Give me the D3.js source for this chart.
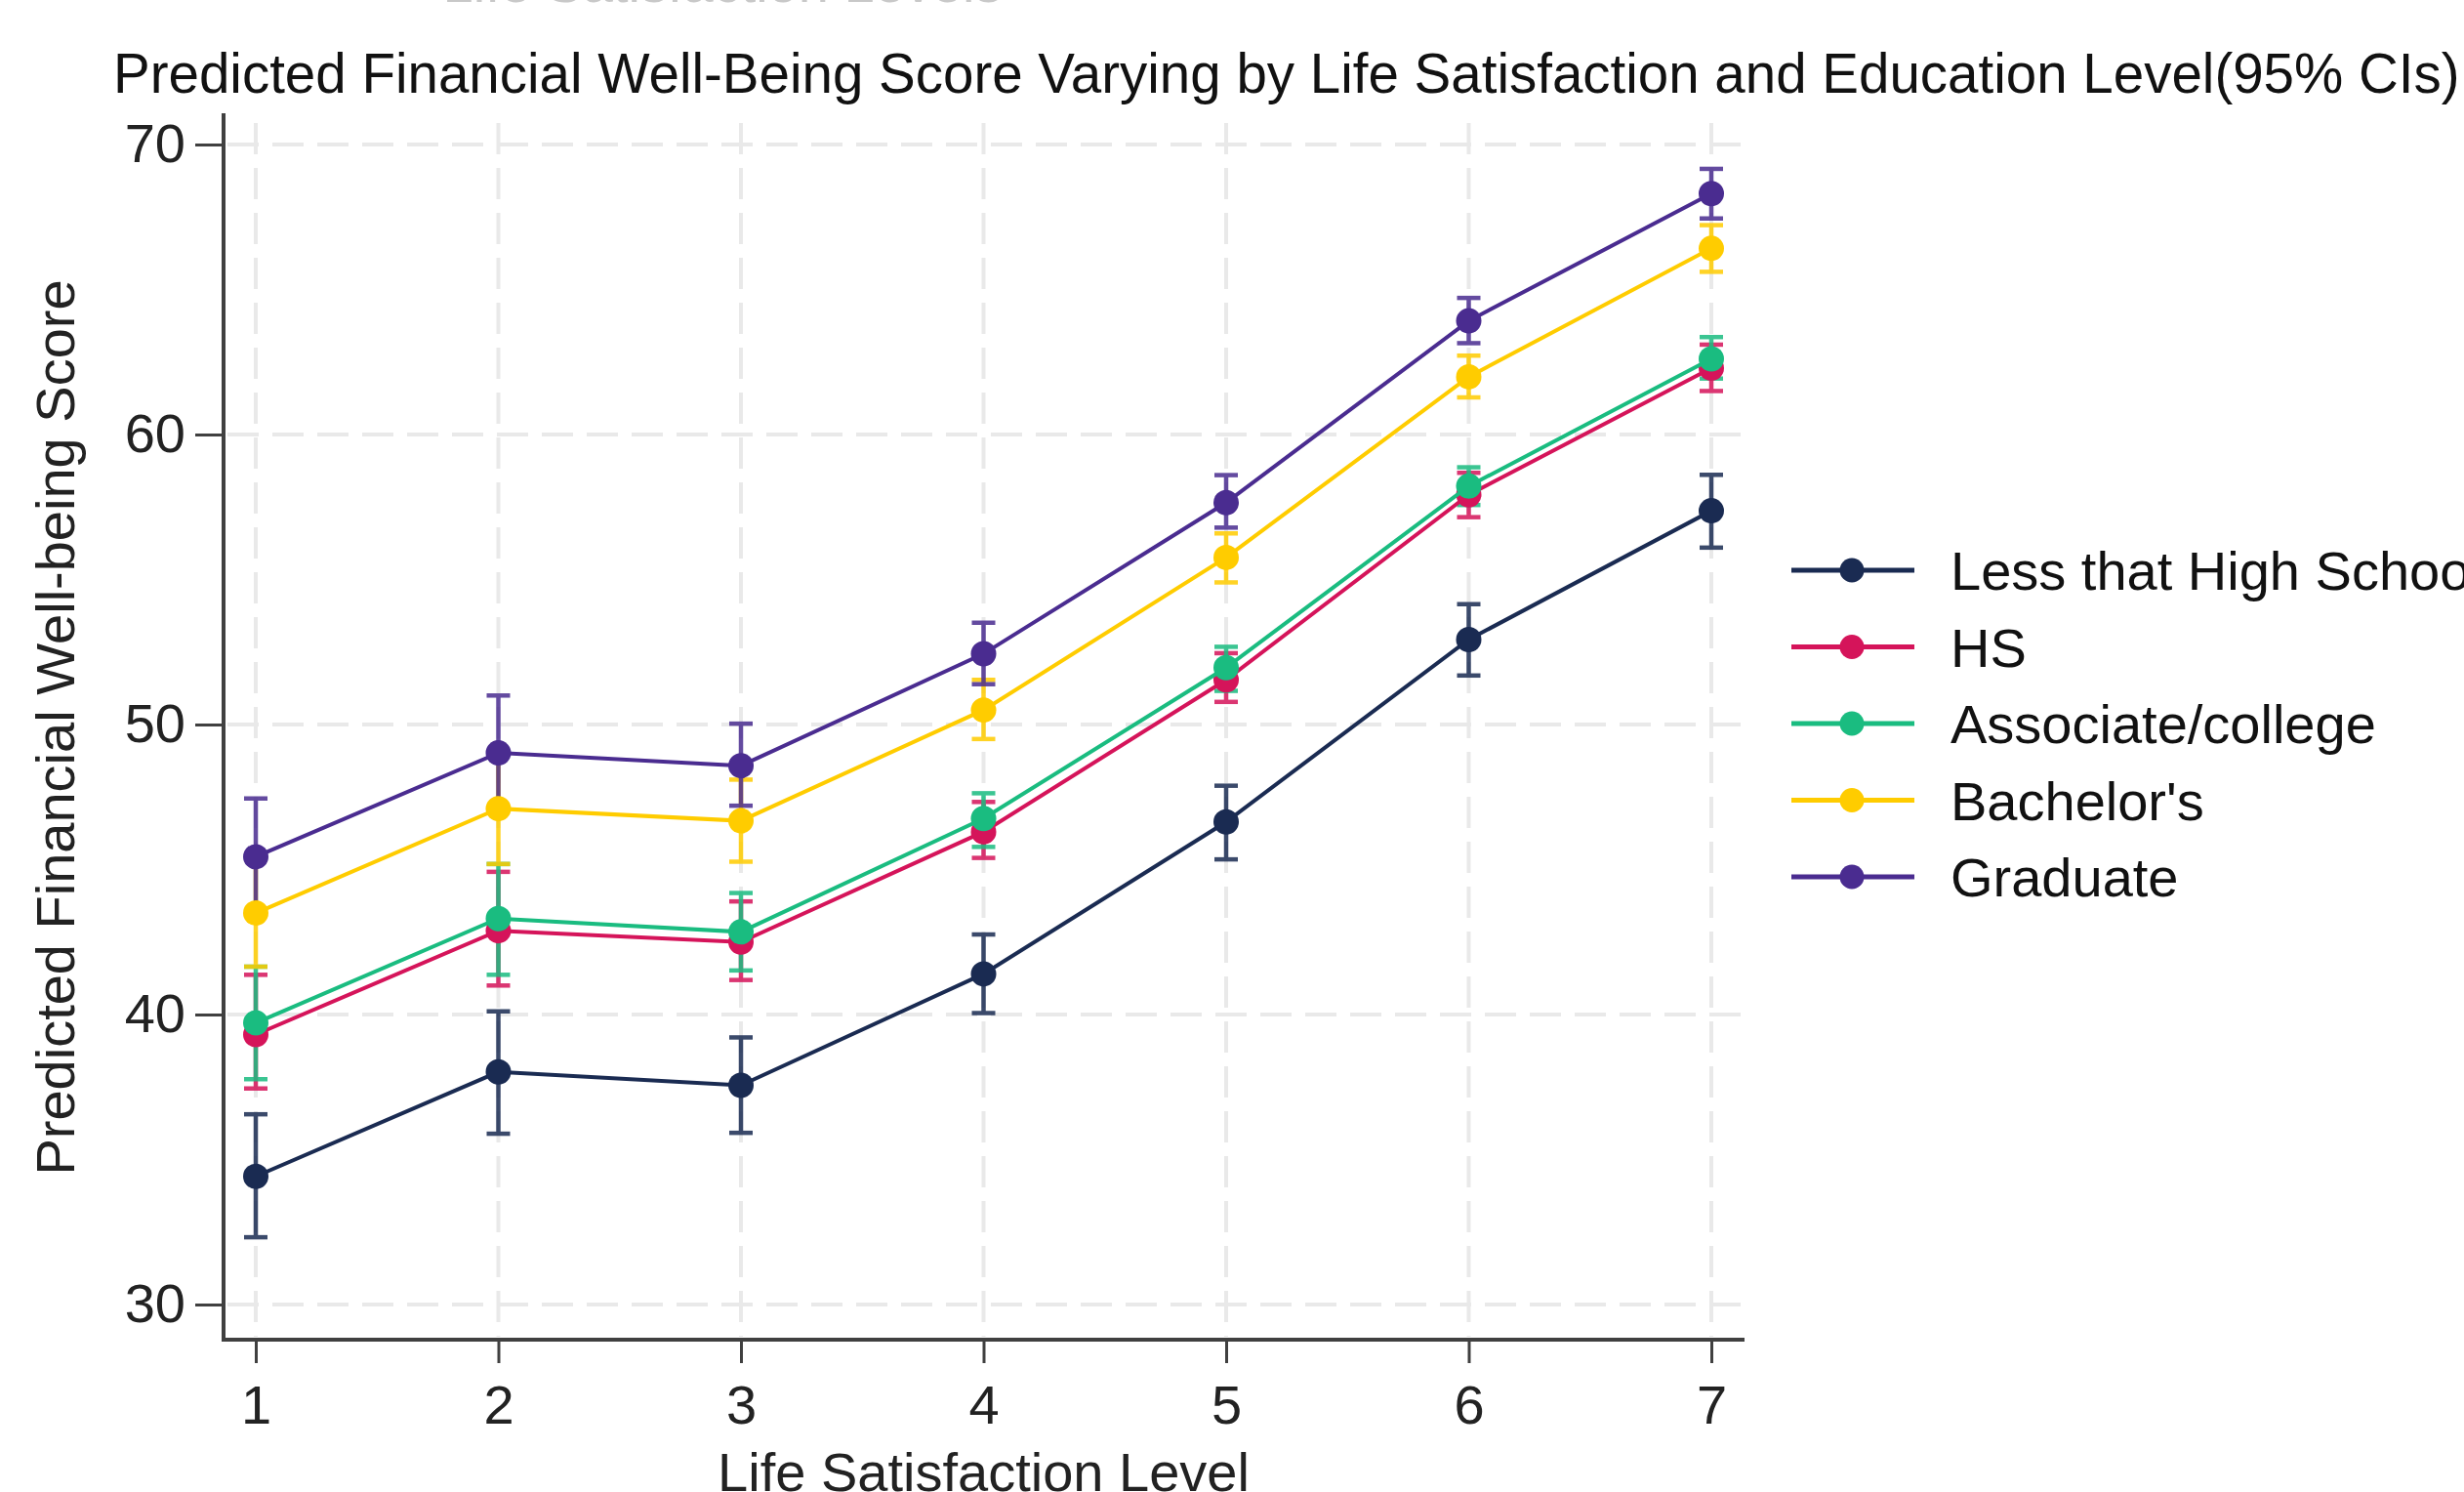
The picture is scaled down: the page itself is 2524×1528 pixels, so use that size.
<!DOCTYPE html>
<html>
<head>
<meta charset="utf-8">
<script src="https://cdn.jsdelivr.net/npm/d3@7"></script>
<style>
  html, body { margin: 0; padding: 0; background: #fff; overflow: hidden; }
  text { font-family: "Liberation Sans", Arial, sans-serif; }
</style>
</head>
<body>
<svg id="chart" width="2524" height="1528"></svg>
<script>
// ---- data ----
const levels = [1, 2, 3, 4, 5, 6, 7];
const seriesNames = ["Less that High School", "HS", "Associate/college", "Bachelor's", "Graduate"];
const yTicks = [30, 40, 50, 60, 70];

const lessHS_mean = [34.42, 38.02, 37.56, 41.40, 46.64, 52.93, 57.37];
const lessHS_lo   = [32.32, 35.89, 35.92, 40.05, 45.35, 51.69, 56.10];
const lessHS_hi   = [36.56, 40.11, 39.21, 42.76, 47.89, 54.15, 58.61];

const hs_mean = [39.31, 42.89, 42.50, 46.30, 51.54, 57.92, 62.29];
const hs_lo   = [37.45, 41.00, 41.19, 45.40, 50.78, 57.15, 61.50];
const hs_hi   = [41.37, 44.92, 43.90, 47.33, 52.46, 58.68, 63.10];

const assoc_mean = [39.71, 43.31, 42.85, 46.76, 51.96, 58.22, 62.61];
const assoc_lo   = [37.77, 41.37, 41.52, 45.78, 51.16, 57.57, 61.93];
const assoc_hi   = [41.65, 45.19, 44.19, 47.63, 52.68, 58.87, 63.36];

const bach_mean = [43.50, 47.10, 46.68, 50.50, 55.76, 61.99, 66.42];
const bach_lo   = [41.65, 45.19, 45.27, 49.50, 54.90, 61.28, 65.61];
const bach_hi   = [45.35, 49.00, 48.10, 51.54, 56.59, 62.72, 67.22];

const grad_mean = [45.44, 49.02, 48.58, 52.44, 57.65, 63.92, 68.31];
const grad_lo   = [43.42, 47.05, 47.20, 51.39, 56.79, 63.15, 67.45];
const grad_hi   = [47.45, 51.00, 50.03, 53.51, 58.60, 64.71, 69.16];

const colors = ["#1a2b52", "#d5145a", "#1abc80", "#ffcc00", "#4a2c90"];

const series = [
  { name: seriesNames[0], mean: lessHS_mean, lo: lessHS_lo, hi: lessHS_hi, color: colors[0] },
  { name: seriesNames[1], mean: hs_mean, lo: hs_lo, hi: hs_hi, color: colors[1] },
  { name: seriesNames[2], mean: assoc_mean, lo: assoc_lo, hi: assoc_hi, color: colors[2] },
  { name: seriesNames[3], mean: bach_mean, lo: bach_lo, hi: bach_hi, color: colors[3] },
  { name: seriesNames[4], mean: grad_mean, lo: grad_lo, hi: grad_hi, color: colors[4] }
];

// ---- layout ----
const svg = d3.select("#chart");
const axisX = 229, axisY = 1372, plotTop = 116, plotRight = 1787;
const x = d3.scaleLinear().domain([1, 7]).range([262, 1753]);
const y = d3.scaleLinear().domain([30, 70]).range([1336, 148]);
const FS = 56;

// cut-off text at the very top
svg.append("text")
  .attr("x", 740).attr("y", 2)
  .attr("text-anchor", "middle")
  .attr("font-size", FS)
  .attr("fill", "#c8c8c8")
  .text("Life Satisfaction Levels");

// title
svg.append("text")
  .attr("x", 116).attr("y", 95)
  .attr("font-size", 56.5)
  .attr("fill", "#111")
  .text("Predicted Financial Well-Being Score Varying by Life Satisfaction and Education Level(95% CIs)");

// grid
const grid = svg.append("g");
grid.selectAll("line.h").data(yTicks).join("line")
  .attr("x1", axisX + 4).attr("x2", plotRight)
  .attr("y1", d => y(d)).attr("y2", d => y(d))
  .attr("stroke", "#e9e9e9").attr("stroke-width", 4)
  .attr("stroke-dasharray", "32,14");
grid.selectAll("line.v").data(levels).join("line")
  .attr("x1", d => x(d)).attr("x2", d => x(d))
  .attr("y1", plotTop + 10).attr("y2", axisY - 3)
  .attr("stroke", "#e9e9e9").attr("stroke-width", 4)
  .attr("stroke-dasharray", "32,14");

// axes
const yAxis = d3.axisLeft(y).tickValues(yTicks).tickSize(29).tickPadding(10).tickSizeOuter(0);
const gy = svg.append("g").attr("transform", `translate(${axisX},0)`).call(yAxis);
gy.select(".domain").remove();
gy.selectAll(".tick line").attr("stroke", "#404040").attr("stroke-width", 3);
gy.selectAll(".tick text").attr("font-size", FS).attr("fill", "#222")
  .attr("font-family", "Liberation Sans, Arial, sans-serif");

const xAxis = d3.axisBottom(x).tickValues(levels).tickFormat(d3.format("d")).tickSize(24).tickPadding(22).tickSizeOuter(0);
const gx = svg.append("g").attr("transform", `translate(0,${axisY})`).call(xAxis);
gx.select(".domain").remove();
gx.selectAll(".tick line").attr("stroke", "#404040").attr("stroke-width", 3);
gx.selectAll(".tick text").attr("font-size", FS).attr("fill", "#222")
  .attr("font-family", "Liberation Sans, Arial, sans-serif");

svg.append("line").attr("x1", axisX).attr("x2", axisX).attr("y1", plotTop).attr("y2", axisY + 2)
  .attr("stroke", "#404040").attr("stroke-width", 4);
svg.append("line").attr("x1", axisX - 2).attr("x2", plotRight).attr("y1", axisY).attr("y2", axisY)
  .attr("stroke", "#404040").attr("stroke-width", 4);

// axis titles
svg.append("text")
  .attr("x", (x(1) + x(7)) / 2).attr("y", 1527)
  .attr("text-anchor", "middle").attr("font-size", FS).attr("fill", "#222")
  .text("Life Satisfaction Level");
svg.append("text")
  .attr("transform", `translate(76,745) rotate(-90)`)
  .attr("text-anchor", "middle").attr("font-size", FS).attr("fill", "#222")
  .text("Predicted Financial Well-being Score");

// error bars
const capW = 12;
const ci = svg.append("g");
series.forEach(s => {
  const g = ci.append("g").attr("stroke", s.color).attr("stroke-width", 4.5).attr("opacity", 0.85);
  const idx = d3.range(levels.length);
  g.selectAll("line.v").data(idx).join("line")
    .attr("x1", i => x(levels[i])).attr("x2", i => x(levels[i]))
    .attr("y1", i => y(s.lo[i])).attr("y2", i => y(s.hi[i]));
  g.selectAll("line.t").data(idx).join("line")
    .attr("x1", i => x(levels[i]) - capW).attr("x2", i => x(levels[i]) + capW)
    .attr("y1", i => y(s.hi[i])).attr("y2", i => y(s.hi[i]));
  g.selectAll("line.b").data(idx).join("line")
    .attr("x1", i => x(levels[i]) - capW).attr("x2", i => x(levels[i]) + capW)
    .attr("y1", i => y(s.lo[i])).attr("y2", i => y(s.lo[i]));
});

// lines + markers
const line = d3.line().x((d, i) => x(levels[i])).y(d => y(d));
series.forEach(s => {
  svg.append("path").datum(s.mean)
    .attr("d", line).attr("fill", "none")
    .attr("stroke", s.color).attr("stroke-width", 4);
  svg.append("g").selectAll("circle").data(s.mean).join("circle")
    .attr("cx", (d, i) => x(levels[i])).attr("cy", d => y(d)).attr("r", 13)
    .attr("fill", s.color);
});

// legend
const legendRowY = d3.scalePoint().domain(seriesNames).range([584, 898]);
const lg = svg.append("g");
series.forEach(s => {
  const cy = legendRowY(s.name);
  lg.append("line").attr("x1", 1835).attr("x2", 1961).attr("y1", cy).attr("y2", cy)
    .attr("stroke", s.color).attr("stroke-width", 5);
  lg.append("circle").attr("cx", 1897).attr("cy", cy).attr("r", 12.5).attr("fill", s.color);
  lg.append("text").attr("x", 1998).attr("y", cy).attr("dy", "0.36em")
    .attr("font-size", FS).attr("fill", "#111").text(s.name);
});
</script>
</body>
</html>
